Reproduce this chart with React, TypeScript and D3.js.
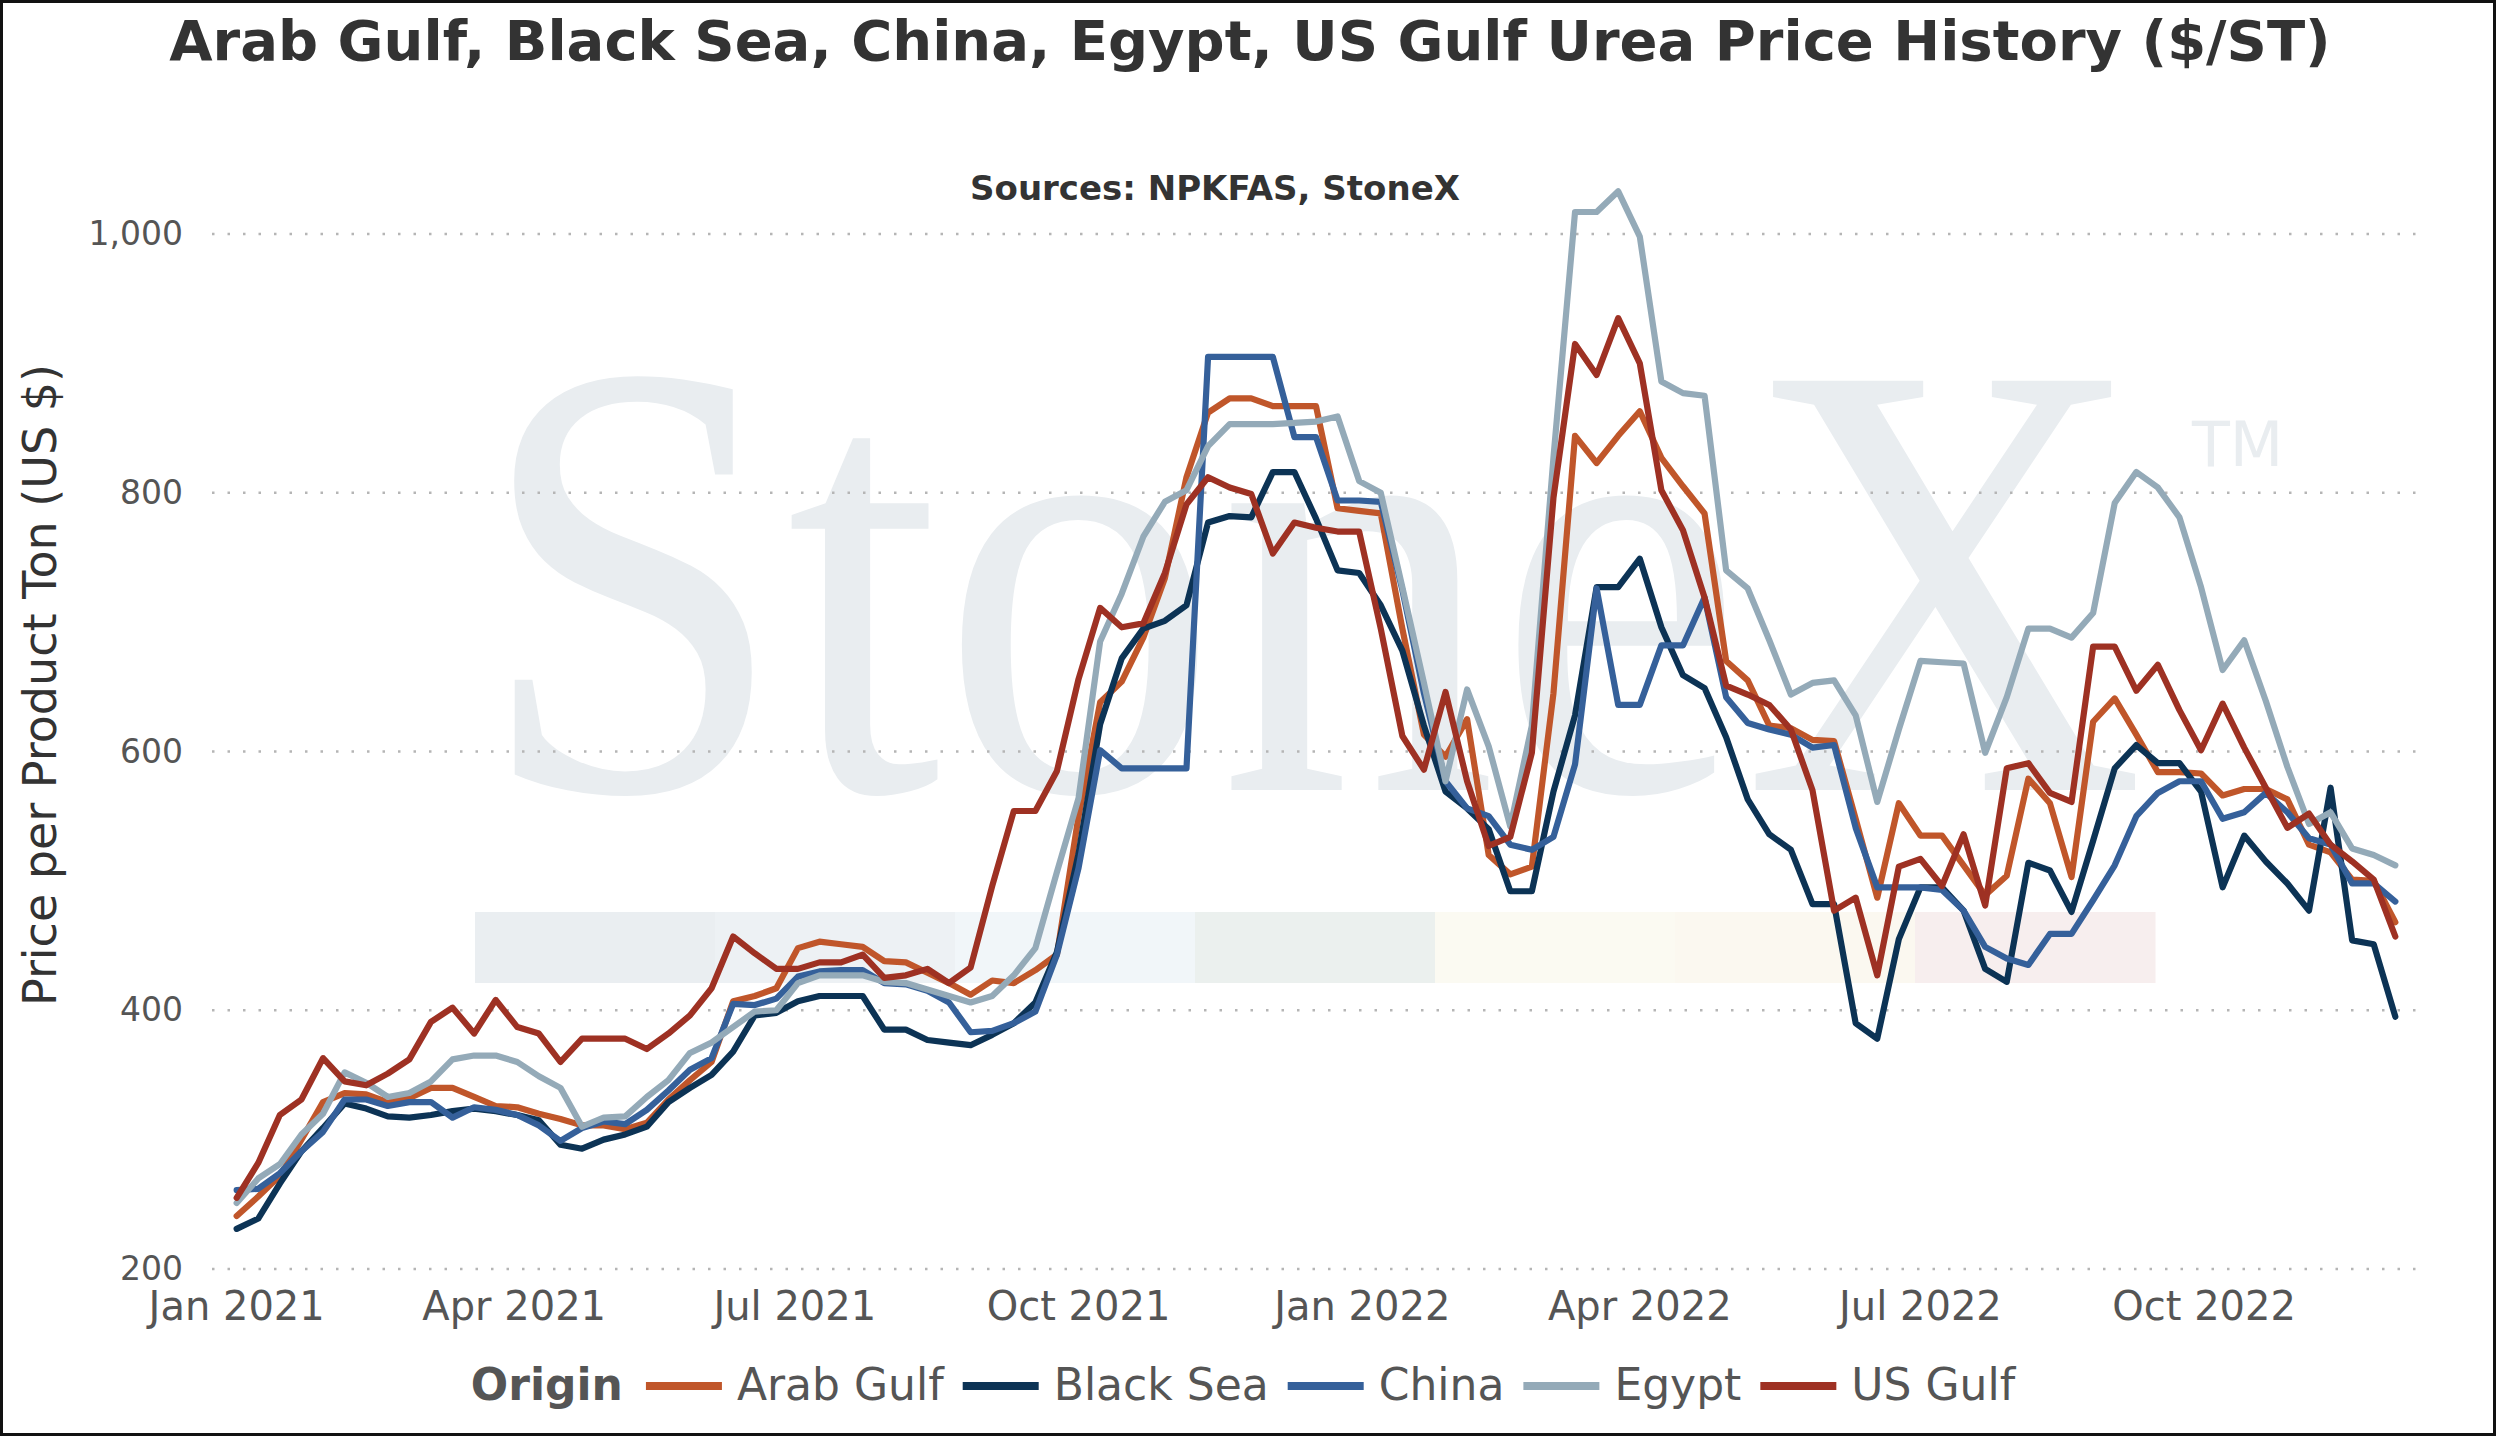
import React, { useEffect, useRef } from "react";
import * as d3 from "d3";

// weekly prices, $/ST, first week of Jan 2021 through early Dec 2022
const origins = ["Arab Gulf", "Black Sea", "China", "Egypt", "US Gulf"];
const colors = ["#c0562a", "#0c3355", "#35609a", "#94aab8", "#9e3123"];

const arabGulf = [
  241, 256, 272, 300, 329, 336, 335, 329, 332, 340, 340, 333, 326, 325, 320, 316, 311, 311, 308, 313,
  331, 346, 360, 407, 411, 417, 448, 453, 451, 449, 438, 437, 429, 421, 412, 423, 421, 431, 443, 550,
  638, 654, 688, 734, 812, 862, 873, 873, 867, 867, 867, 788, 786, 784, 695, 613, 596, 625, 520, 505,
  511, 645, 844, 823, 844, 863, 827, 805, 784, 670, 655, 620, 618, 609, 608, 548, 487, 560, 535, 535,
  512, 489, 504, 579, 560, 503, 623, 641, 613, 584, 584, 583, 566, 571, 571, 563, 528, 522, 501, 500,
  468,
];

const blackSea = [
  231, 239, 266, 291, 309, 328, 324, 318, 317, 319, 322, 324, 322, 319, 315, 296, 293, 300, 304, 310,
  329, 340, 350, 368, 396, 398, 407, 411, 411, 411, 385, 385, 377, 375, 373, 381, 390, 406, 445, 521,
  621, 672, 695, 701, 713, 777, 782, 781, 816, 816, 780, 740, 738, 713, 678, 620, 569, 556, 540, 492,
  492, 569, 628, 727, 727, 749, 696, 659, 649, 611, 563, 536, 524, 482, 482, 390, 378, 455, 495, 495,
  477, 432, 422, 514, 508, 476, 531, 587, 605, 591, 591, 569, 495, 535, 515, 498, 477, 572, 454, 451,
  395,
];

const china = [
  261, 262, 274, 291, 306, 331, 331, 326, 329, 329, 317, 325, 323, 319, 311, 299, 309, 314, 312, 323,
  338, 354, 363, 405, 404, 409, 426, 430, 431, 431, 421, 420, 415, 406, 383, 384, 390, 399, 443, 510,
  601, 587, 587, 587, 587, 905, 905, 905, 905, 843, 843, 794, 794, 793, 725, 645, 577, 556, 550, 528,
  524, 534, 590, 726, 636, 636, 682, 682, 719, 642, 622, 617, 613, 603, 605, 541, 495, 495, 495, 493,
  477, 449, 440, 435, 459, 459, 485, 512, 550, 568, 577, 577, 548, 553, 568, 553, 533, 528, 498, 498,
  484,
];

const egypt = [
  251, 270, 281, 304, 320, 352, 344, 333, 336, 345, 362, 365, 365, 360, 349, 340, 310, 317, 318, 333,
  346, 367, 375, 387, 399, 400, 421, 427, 427, 427, 422, 421, 416, 411, 406, 411, 427, 448, 507, 564,
  685, 722, 766, 793, 802, 836, 853, 853, 853, 854, 855, 859, 809, 800, 727, 653, 577, 648, 604, 542,
  620, 827, 1017, 1017, 1033, 998, 886, 877, 875, 740, 726, 686, 644, 653, 655, 628, 561, 617, 670, 669,
  668, 599, 642, 695, 695, 688, 707, 792, 816, 804, 781, 727, 663, 686, 639, 588, 544, 553, 525, 520,
  512,
];

const usGulf = [
  255, 282, 319, 331, 363, 345, 342, 351, 362, 391, 402, 382, 408, 387, 382, 360, 378, 378, 378, 370,
  382, 396, 417, 457, 444, 432, 432, 437, 437, 443, 425, 427, 432, 421, 433, 496, 554, 554, 585, 656,
  711, 696, 699, 738, 791, 812, 804, 799, 753, 777, 773, 770, 770, 695, 612, 586, 646, 577, 527, 534,
  599, 796, 915, 891, 935, 900, 802, 771, 719, 651, 644, 636, 617, 570, 477, 487, 427, 511, 517, 496,
  536, 481, 587, 591, 568, 561, 681, 681, 647, 667, 632, 601, 637, 603, 572, 541, 552, 528, 515, 501,
  457,
];

const seriesValues = [arabGulf, blackSea, china, egypt, usGulf];
const yTicks = [200, 400, 600, 800, 1000];
const stripColors = ["#eaeef1", "#edf1f4", "#f1f6f9", "#ebf0ee", "#fbfaf2", "#fbf8f0", "#f7eeee"];

const W = 2496;
const H = 1436;
const FONT = "'DejaVu Sans', Verdana, sans-serif";

const App: React.FC = () => {
  const svgRef = useRef<SVGSVGElement>(null);

  useEffect(() => {
    const svg = d3.select(svgRef.current);
    svg.selectAll("*").remove();

    const start = new Date(2021, 0, 1);
    const dates = arabGulf.map((_, i) => d3.timeDay.offset(start, 7 * i));

    const x = d3
      .scaleTime()
      .domain([new Date(2020, 11, 24), new Date(2022, 11, 10)])
      .range([212, 2420]);
    const y = d3.scaleLinear().domain([200, 1000]).range([1269, 234]);

    svg.append("rect").attr("width", W).attr("height", H).attr("fill", "#fff");

    // StoneX watermark (logo text + TM in one text element)
    const wm = svg.append("g");
    const stripW = (2155 - 475) / stripColors.length;
    wm.selectAll("rect")
      .data(stripColors)
      .join("rect")
      .attr("x", (_, i) => 475 + i * stripW)
      .attr("y", 912)
      .attr("width", stripW + 0.5)
      .attr("height", 71)
      .attr("fill", (d) => d);
    const logo = wm
      .append("text")
      .attr("font-family", "'Liberation Serif', 'DejaVu Serif', serif")
      .attr("fill", "#e9edf0");
    logo
      .append("tspan")
      .attr("x", 477)
      .attr("y", 790)
      .attr("textLength", 1668)
      .attr("lengthAdjust", "spacingAndGlyphs")
      .attr("font-size", 625)
      .text("StoneX");
    logo
      .append("tspan")
      .attr("x", 2192)
      .attr("y", 466)
      .attr("font-family", FONT)
      .attr("font-size", 62)
      .text("TM");

    // grid + y labels
    const grid = svg.append("g");
    grid
      .selectAll("line")
      .data(yTicks)
      .join("line")
      .attr("x1", 212)
      .attr("x2", 2420)
      .attr("y1", (d) => y(d))
      .attr("y2", (d) => y(d))
      .attr("stroke", "#b5b5b5")
      .attr("stroke-width", 2.5)
      .attr("stroke-dasharray", "2.5 13");
    grid
      .selectAll("text")
      .data(yTicks)
      .join("text")
      .attr("x", 183)
      .attr("y", (d) => y(d))
      .attr("dy", "0.34em")
      .attr("text-anchor", "end")
      .attr("font-family", FONT)
      .attr("font-size", 33)
      .attr("fill", "#555")
      .text((d) => d3.format(",")(d));

    // x labels
    const fmt = d3.timeFormat("%b %Y");
    svg
      .append("g")
      .selectAll("text")
      .data(x.ticks(d3.timeMonth.every(3)!))
      .join("text")
      .attr("x", (d) => x(d))
      .attr("y", 1320)
      .attr("text-anchor", "middle")
      .attr("font-family", FONT)
      .attr("font-size", 40)
      .attr("fill", "#555")
      .text((d) => fmt(d));

    // y title
    svg
      .append("text")
      .attr("transform", "translate(40,685) rotate(-90)")
      .attr("dy", "0.35em")
      .attr("text-anchor", "middle")
      .attr("font-family", FONT)
      .attr("font-size", 46)
      .attr("fill", "#333")
      .text("Price per Product Ton (US $)");

    // lines
    const line = d3
      .line<number>()
      .x((_, i) => x(dates[i]))
      .y((d) => y(d));
    svg
      .append("g")
      .selectAll("path")
      .data(seriesValues)
      .join("path")
      .attr("d", (d) => line(d))
      .attr("fill", "none")
      .attr("stroke", (_, i) => colors[i])
      .attr("stroke-width", 6.2)
      .attr("stroke-linejoin", "round")
      .attr("stroke-linecap", "round");

    // titles
    svg
      .append("text")
      .attr("x", 1250)
      .attr("y", 60)
      .attr("text-anchor", "middle")
      .attr("font-family", FONT)
      .attr("font-weight", "bold")
      .attr("font-size", 56)
      .attr("fill", "#333")
      .text("Arab Gulf, Black Sea, China, Egypt, US Gulf Urea Price History ($/ST)");
    svg
      .append("text")
      .attr("x", 1215)
      .attr("y", 200)
      .attr("text-anchor", "middle")
      .attr("font-family", FONT)
      .attr("font-weight", "bold")
      .attr("font-size", 34)
      .attr("fill", "#333")
      .text("Sources: NPKFAS, StoneX");

    // legend
    const lg = svg.append("g");
    const head = lg
      .append("text")
      .attr("x", 0)
      .attr("y", 1400)
      .attr("font-family", FONT)
      .attr("font-weight", "bold")
      .attr("font-size", 44)
      .attr("fill", "#555")
      .text("Origin");
    let cx = (head.node() as SVGTextElement).getComputedTextLength() + 23;
    origins.forEach((name, i) => {
      lg.append("line")
        .attr("x1", cx)
        .attr("x2", cx + 76)
        .attr("y1", 1386)
        .attr("y2", 1386)
        .attr("stroke", colors[i])
        .attr("stroke-width", 8);
      cx += 91;
      const t = lg
        .append("text")
        .attr("x", cx)
        .attr("y", 1400)
        .attr("font-family", FONT)
        .attr("font-size", 44)
        .attr("fill", "#555")
        .text(name);
      cx += (t.node() as SVGTextElement).getComputedTextLength() + 19;
    });
    lg.attr("transform", `translate(${1243 - (cx - 19) / 2},0)`);

    // frame
    svg
      .append("rect")
      .attr("x", 1.5)
      .attr("y", 1.5)
      .attr("width", W - 3)
      .attr("height", H - 3)
      .attr("fill", "none")
      .attr("stroke", "#111")
      .attr("stroke-width", 3);
  }, []);

  return (
    <>
      <style>{"body{margin:0;overflow:hidden}"}</style>
      <svg ref={svgRef} width={W} height={H} style={{ display: "block" }} />
    </>
  );
};

export default App;
